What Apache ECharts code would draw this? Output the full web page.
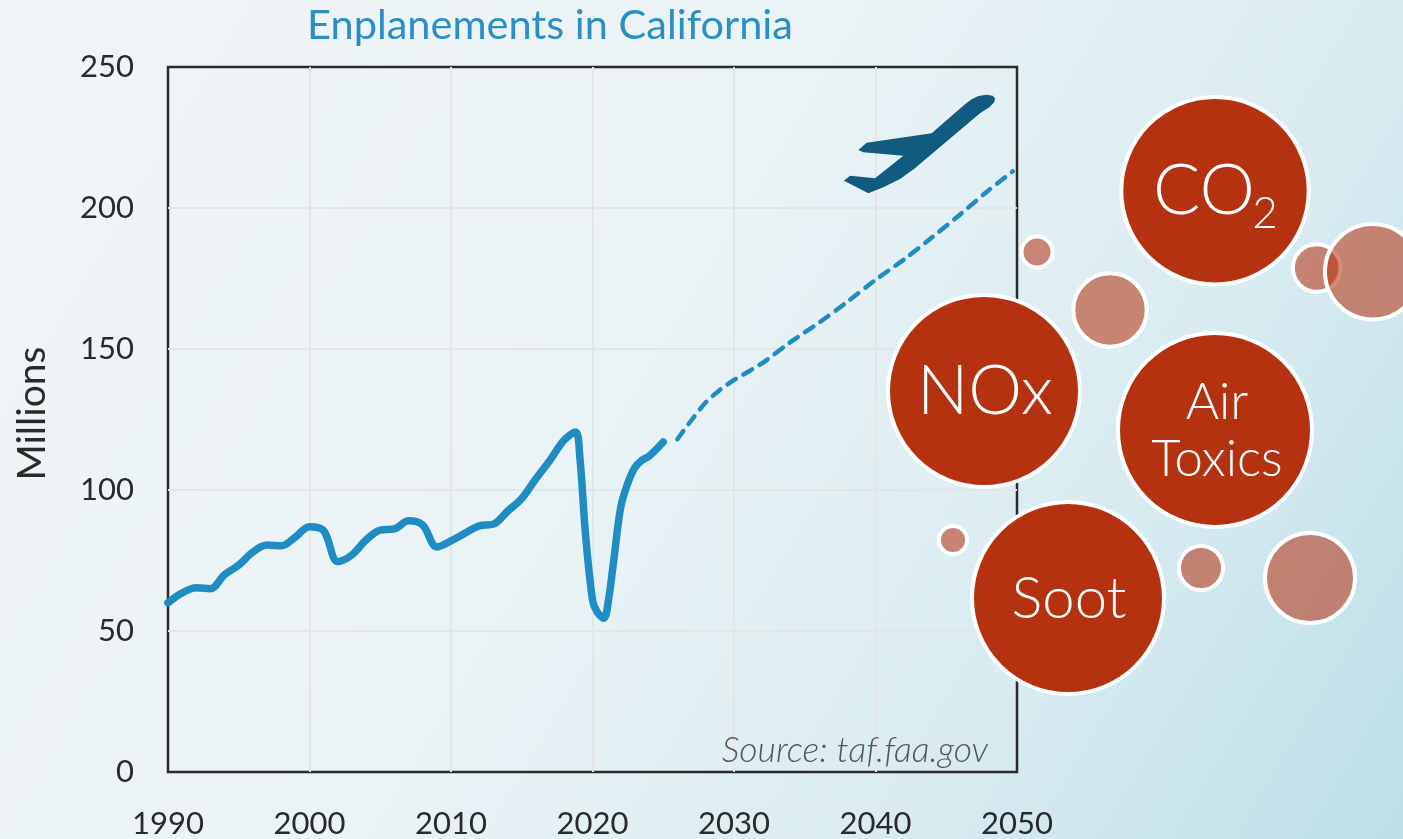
<!DOCTYPE html>
<html><head><meta charset="utf-8">
<style>html,body{margin:0;padding:0;width:1403px;height:839px;overflow:hidden}#c{width:1403px;height:839px}</style>
<script src="https://cdn.jsdelivr.net/npm/echarts@6/dist/echarts.min.js"></script>
</head><body><div id="c"></div>
<script>
const historicYears=[1990,1991,1992,1993,1994,1995,1996,1997,1998,1999,2000,2001,2002,2003,2004,2005,2006,2007,2008,2009,2010,2011,2012,2013,2014,2015,2016,2017,2018,2018.8,2019.1,2019.5,2020,2020.3,2020.8,2021.1,2021.5,2022,2022.5,2023,2023.5,2024,2025];
const historicValues=[60,63.5,65.3,65,70,73.4,78,80.5,80.2,83.3,87,85.6,74.6,77,82.3,85.8,86.2,89.1,87.6,79.8,82,84.7,87.3,87.9,92.5,97,104,110.6,117.7,120.6,112,84.7,61,57,54.5,60,75,94,102.5,108,110.6,112,117];
const forecastYears=[2026,2027,2028,2029,2030,2032,2034,2036,2038,2040,2042,2044,2046,2048,2049.7];
const forecastValues=[118,124.8,131,135.5,139,145,152.5,159.3,166.7,174.5,181.7,189.6,197.8,206.3,213];
const fontMain='Lato, "Open Sans", sans-serif';
const bubbleFont='300 SIZEpx Lato, "Open Sans", sans-serif';
const big='#b53210', pale='rgba(181,50,16,0.56)';
function bubble(cx,cy,r,fill){return {type:'circle',z:20,shape:{cx:cx,cy:cy,r:r},style:{fill:fill,stroke:'#fff',lineWidth:4}};}
function label(t,x,y,size){return {type:'text',z:21,style:{text:t,x:x,y:y,fill:'#fff',font:bubbleFont.replace('SIZE',size),textAlign:'center',textVerticalAlign:'middle'}};}
const planeOutline=[[465,55],[458,47],[440,44],[415,48],[395,58],[375,73],[275,160],[80,188],[55,210],[70,217],[190,227],[105,295],[30,287],[12,302],[85,340],[130,322],[180,297],[225,265],[260,235],[420,100],[450,80],[463,66]];
const chart=echarts.init(document.getElementById('c'));
chart.setOption({
 animation:false,
 backgroundColor:new echarts.graphic.LinearGradient(0,0,1,1,[{offset:0,color:'#f1f5f7'},{offset:0.45,color:'#eaf3f6'},{offset:0.75,color:'#d8ebf1'},{offset:1,color:'#bcdfe7'}]),
 title:{text:'Enplanements in California',left:545,top:0,textAlign:'center',textStyle:{color:'#2a8fc4',fontFamily:fontMain,fontWeight:'normal',fontSize:41.5}},
 grid:{left:168,right:386,top:67,bottom:67,show:true,borderColor:'#2a2a2a',borderWidth:2.5,backgroundColor:'transparent'},
 xAxis:{type:'value',min:1990,max:2050,interval:10,
   axisLine:{show:false},axisTick:{show:false},
   axisLabel:{color:'#2a2a2a',fontFamily:fontMain,fontSize:31,margin:36,formatter:v=>String(v)},
   splitLine:{show:true,showMinLine:false,showMaxLine:false,lineStyle:{color:'#e5e5e6',width:2}}},
 yAxis:{type:'value',min:0,max:250,interval:50,name:'Millions',nameLocation:'middle',nameGap:116,nameRotate:90,
   nameTextStyle:{color:'#2a2a2a',fontFamily:fontMain,fontSize:39,padding:[0,0,0,12]},
   axisLine:{show:false},axisTick:{show:false},
   axisLabel:{color:'#2a2a2a',fontFamily:fontMain,fontSize:31,margin:34},
   splitLine:{show:true,showMinLine:false,showMaxLine:false,lineStyle:{color:'#e5e5e6',width:2}}},
 series:[
  {type:'line',data:historicYears.map((y,i)=>[y,historicValues[i]]),smooth:0.35,symbol:'none',
   lineStyle:{color:'#1f8dc3',width:7.5,cap:'round',join:'round'},z:5},
  {type:'line',data:forecastYears.map((y,i)=>[y,forecastValues[i]]),smooth:0.3,symbol:'none',
   lineStyle:{color:'#1f8dc3',width:4.5,type:[10,8.7],cap:'round'},z:5}
 ],
 graphic:[
  {type:'polygon',z:10,x:840,y:80,scaleX:1/3,scaleY:1/3,shape:{points:planeOutline},style:{fill:'#115b80'}},
  {type:'text',z:8,style:{text:'Source: taf.faa.gov',x:988,y:751,fill:'#555',font:'italic 300 35.6px Lato, "Open Sans", sans-serif',textAlign:'right',textVerticalAlign:'middle'}},
  bubble(1316.7,268,23.8,pale),
  bubble(1372.7,271.7,47.7,pale),
  bubble(1037,252,15.5,pale),
  bubble(1110,310,36.7,pale),
  bubble(953,540,14,pale),
  bubble(1201,568,22,pale),
  bubble(1310,578,45,pale),
  bubble(1215,190.7,93.7,big),
  bubble(984,391,96,big),
  bubble(1215,430,97,big),
  bubble(1068,598,96,big),
  label('CO',1204,191,70),
  label('2',1265,214,44),
  label('NOx',985,392,68),
  label('Air',1217,403,51),
  label('Toxics',1217,460,51),
  label('Soot',1069,599,58)
 ]
});
</script></body></html>
